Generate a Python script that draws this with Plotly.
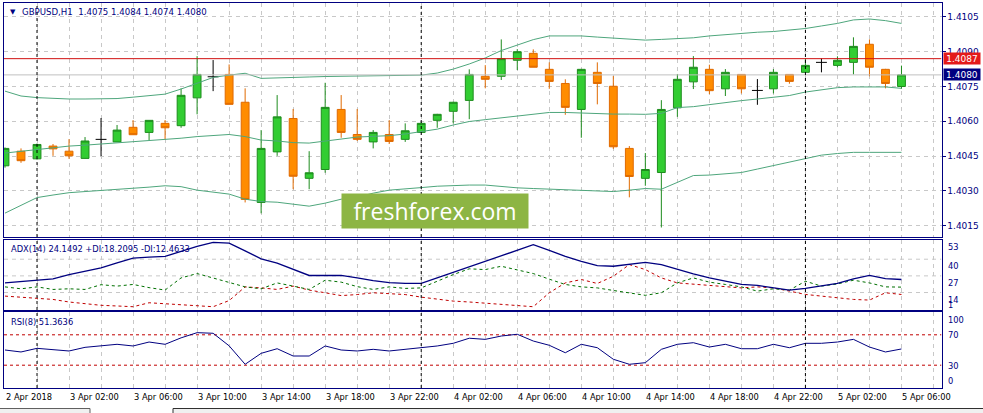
import plotly.graph_objects as go
import pandas as pd

W, H = 983, 413

# ---------------- data ----------------
bar_times = pd.date_range("2018-04-02 22:00", periods=57, freq="h")

open_ = [1.40408, 1.40471, 1.40438, 1.40493, 1.40471, 1.40440, 1.40522, 1.40511, 1.40574, 1.40552,
         1.40591, 1.40581, 1.40701, 1.40792, 1.40802, 1.40682, 1.40250, 1.40468, 1.40612, 1.40354,
         1.40392, 1.40651, 1.40543, 1.40511, 1.40543, 1.40522, 1.40552, 1.40604, 1.40643, 1.40690,
         1.40794, 1.40794, 1.40863, 1.40893, 1.40824, 1.40763, 1.40651, 1.40811, 1.40751, 1.40483,
         1.40354, 1.40379, 1.40658, 1.40770, 1.40824, 1.40740, 1.40802, 1.40733, 1.40740, 1.40802,
         1.40811, 1.40854, 1.40841, 1.40854, 1.40932, 1.40824, 1.40750]
high_ = [1.40487, 1.40483, 1.40504, 1.40502, 1.40523, 1.40532, 1.40614, 1.40584, 1.40605, 1.40604,
         1.40605, 1.40742, 1.40881, 1.40864, 1.40845, 1.40742, 1.40562, 1.40713, 1.40653, 1.40471,
         1.40766, 1.40713, 1.40653, 1.40562, 1.40605, 1.40591, 1.40597, 1.40632, 1.40684, 1.40824,
         1.40842, 1.40953, 1.40911, 1.40910, 1.40854, 1.40781, 1.40826, 1.40854, 1.40795, 1.40493,
         1.40463, 1.40691, 1.40804, 1.40881, 1.40844, 1.40825, 1.40802, 1.40782, 1.40825, 1.40802,
         1.40871, 1.40871, 1.40880, 1.40962, 1.40953, 1.40826, 1.40840]
low_ = [1.40400, 1.40421, 1.40435, 1.40451, 1.40438, 1.40439, 1.40450, 1.40511, 1.40542, 1.40519,
        1.40522, 1.40572, 1.40630, 1.40730, 1.40673, 1.40250, 1.40203, 1.40451, 1.40307, 1.40307,
        1.40378, 1.40529, 1.40515, 1.40483, 1.40502, 1.40511, 1.40552, 1.40572, 1.40591, 1.40609,
        1.40742, 1.40778, 1.40821, 1.40833, 1.40740, 1.40628, 1.40529, 1.40673, 1.40481, 1.40272,
        1.40322, 1.40142, 1.40619, 1.40739, 1.40717, 1.40709, 1.40720, 1.40671, 1.40720, 1.40762,
        1.40811, 1.40811, 1.40833, 1.40802, 1.40794, 1.40742, 1.40740]
close_ = [1.40483, 1.40430, 1.40500, 1.40481, 1.40451, 1.40515, 1.40522, 1.40562, 1.40542, 1.40604,
          1.40572, 1.40712, 1.40802, 1.40792, 1.40673, 1.40263, 1.40483, 1.40619, 1.40363, 1.40378,
          1.40660, 1.40552, 1.40522, 1.40552, 1.40513, 1.40559, 1.40591, 1.40630, 1.40682, 1.40802,
          1.40781, 1.40870, 1.40900, 1.40833, 1.40772, 1.40660, 1.40824, 1.40763, 1.40490, 1.40362,
          1.40392, 1.40651, 1.40781, 1.40833, 1.40732, 1.40811, 1.40740, 1.40733, 1.40811, 1.40772,
          1.40841, 1.40854, 1.40863, 1.40923, 1.40833, 1.40763, 1.40800]

bb_upper = [1.40730, 1.40709, 1.40702, 1.40698, 1.40696, 1.40696, 1.40696, 1.40698, 1.40704, 1.40709,
            1.40717, 1.40739, 1.40765, 1.40789, 1.40799, 1.40807, 1.40785, 1.40786, 1.40789, 1.40791,
            1.40793, 1.40794, 1.40795, 1.40795, 1.40796, 1.40797, 1.40799, 1.40808, 1.40825, 1.40847,
            1.40873, 1.40905, 1.40929, 1.40952, 1.40968, 1.40968, 1.40968, 1.40963, 1.40959, 1.40955,
            1.40950, 1.40953, 1.40957, 1.40960, 1.40968, 1.40974, 1.40978, 1.40984, 1.40987, 1.40993,
            1.41000, 1.41011, 1.41022, 1.41037, 1.41041, 1.41034, 1.41022]
bb_middle = [1.40463, 1.40471, 1.40480, 1.40486, 1.40493, 1.40497, 1.40502, 1.40506, 1.40510, 1.40517,
             1.40523, 1.40527, 1.40534, 1.40540, 1.40543, 1.40534, 1.40519, 1.40515, 1.40508, 1.40506,
             1.40515, 1.40525, 1.40532, 1.40535, 1.40538, 1.40545, 1.40555, 1.40566, 1.40584, 1.40599,
             1.40607, 1.40614, 1.40622, 1.40629, 1.40638, 1.40638, 1.40635, 1.40633, 1.40631, 1.40631,
             1.40630, 1.40634, 1.40659, 1.40663, 1.40672, 1.40683, 1.40689, 1.40696, 1.40704, 1.40711,
             1.40726, 1.40735, 1.40745, 1.40748, 1.40749, 1.40748, 1.40742]
bb_lower = [1.40204, 1.40238, 1.40271, 1.40282, 1.40292, 1.40297, 1.40301, 1.40305, 1.40310, 1.40316,
            1.40322, 1.40318, 1.40303, 1.40294, 1.40286, 1.40264, 1.40254, 1.40251, 1.40243, 1.40234,
            1.40247, 1.40264, 1.40273, 1.40290, 1.40303, 1.40310, 1.40314, 1.40320, 1.40323, 1.40325,
            1.40325, 1.40318, 1.40313, 1.40310, 1.40307, 1.40306, 1.40303, 1.40299, 1.40297, 1.40303,
            1.40310, 1.40307, 1.40338, 1.40366, 1.40368, 1.40372, 1.40379, 1.40394, 1.40409, 1.40424,
            1.40441, 1.40454, 1.40461, 1.40466, 1.40466, 1.40466, 1.40466]

adx = [21.5, 22.4, 23.4, 24.6, 27.9, 30.4, 33.3, 37.2, 40.9, 41.6,
       42.2, 46.1, 50.0, 53.1, 52.5, 46.5, 40.3, 37.0, 31.9, 27.3,
       27.3, 27.3, 25.4, 23.2, 21.7, 21.1, 21.1, 25.4, 29.8, 33.9,
       38.0, 42.2, 46.9, 51.3, 46.9, 42.2, 38.3, 35.0, 34.5, 35.8,
       37.6, 35.8, 32.0, 28.6, 25.4, 22.8, 20.3, 19.5, 17.6, 15.9,
       17.2, 19.1, 21.1, 24.6, 27.3, 24.9, 24.1492]
plus_di = [18.4, 16.9, 18.4, 16.4, 16.9, 16.4, 20.1, 19.0, 20.3, 17.8,
           15.9, 25.4, 28.8, 25.4, 21.7, 18.4, 16.9, 21.5, 19.0, 16.4,
           23.6, 22.1, 18.6, 16.4, 18.4, 17.2, 17.6, 22.8, 28.0, 32.5,
           31.9, 34.5, 31.4, 28.8, 24.4, 20.3, 18.4, 17.6, 15.6, 13.5,
           11.8, 13.8, 21.5, 25.4, 22.1, 20.3, 18.4, 15.1, 16.9, 15.9,
           22.8, 19.0, 20.7, 23.6, 21.5, 18.4, 18.2095]
minus_di = [11.2, 10.4, 9.9, 8.6, 6.6, 5.2, 4.0, 3.5, 2.9, 6.0,
            5.2, 4.0, 3.5, 2.9, 7.7, 18.4, 17.6, 16.4, 19.0, 15.9,
            13.8, 11.6, 12.4, 13.8, 13.1, 12.4, 10.4, 8.9, 7.3, 6.6,
            5.8, 4.8, 3.8, 2.9, 13.8, 21.5, 24.15, 21.05, 26.7, 35.8,
            31.9, 25.4, 21.5, 20.5, 19.5, 18.6, 17.6, 18.4, 17.6, 15.1,
            12.5, 11.2, 9.9, 8.6, 8.1, 13.8, 12.4633]
rsi = [50.0, 47.4, 52.2, 50.9, 48.7, 53.5, 55.3, 57.5, 55.3, 60.5,
       57.5, 66.0, 72.8, 72.0, 55.5, 31.2, 45.6, 51.7, 42.1, 42.1,
       55.3, 50.0, 48.7, 50.9, 48.7, 50.9, 53.9, 55.3, 58.8, 65.5,
       64.0, 68.4, 70.7, 61.8, 56.2, 46.4, 57.5, 53.0, 37.8, 31.2,
       33.3, 50.9, 57.5, 59.6, 53.9, 57.5, 51.7, 51.7, 57.5, 53.0,
       58.8, 58.8, 60.5, 64.0, 53.9, 47.4, 51.3636]

price_ticks = [1.4015, 1.4030, 1.4045, 1.4060, 1.4075, 1.4090, 1.4105]
adx_levels = [40, 27, 14]
adx_ticks = [53, 40, 27, 14]
rsi_levels = [70, 30]
rsi_ticks = [100, 70, 30, 0]
ask_price = 1.4087
bid_price = 1.4080
title_text = "GBPUSD,H1  1.4075 1.4084 1.4074 1.4080"
adx_text = "ADX(14) 24.1492 +DI:18.2095 -DI:12.4633"
rsi_text = "RSI(8) 51.3636"

# ---------------- styling ----------------
NAVY = "#000080"
GRID = "#c8c8c8"
BB = "#4ea67c"
FONT = "DejaVu Sans"

idx = list(range(len(bar_times)))
xr = [-0.0625, 58.5]


def py(p):
    return 1 - p / H


def px(p):
    return p / W


xdom = [px(4), px(941.5)]
dom_main = [py(237), py(3)]
dom_adx = [py(310), py(239.5)]
dom_rsi = [py(388), py(312)]

fig = go.Figure()

# candles (non-doji)
nd = [i for i in idx if abs(open_[i] - close_[i]) > 1e-9]
fig.add_trace(go.Candlestick(
    x=nd, open=[open_[i] for i in nd], high=[high_[i] for i in nd],
    low=[low_[i] for i in nd], close=[close_[i] for i in nd],
    increasing=dict(line=dict(color="#1e8c1e", width=1), fillcolor="#32cd32"),
    decreasing=dict(line=dict(color="#e06a00", width=1), fillcolor="#ff8c00"),
    whiskerwidth=0, xaxis="x", yaxis="y", hoverinfo="skip"))

# dojis as black crosses
dj = [i for i in idx if abs(open_[i] - close_[i]) <= 1e-9]
dx, dy = [], []
for i in dj:
    dx += [i, i, None, i - 0.34, i + 0.34, None]
    dy += [low_[i], high_[i], None, open_[i], open_[i], None]
fig.add_trace(go.Scatter(x=dx, y=dy, mode="lines", line=dict(color="black", width=1),
                         xaxis="x", yaxis="y", hoverinfo="skip"))

# bollinger bands
for band in (bb_upper, bb_middle, bb_lower):
    fig.add_trace(go.Scatter(x=idx, y=band, mode="lines", line=dict(color=BB, width=1),
                             xaxis="x", yaxis="y", hoverinfo="skip"))

# price levels
fig.add_trace(go.Scatter(x=xr, y=[bid_price, bid_price], mode="lines",
                         line=dict(color="#c0c0c0", width=1), xaxis="x", yaxis="y"))
fig.add_trace(go.Scatter(x=xr, y=[ask_price, ask_price], mode="lines",
                         line=dict(color="#d01010", width=1), xaxis="x", yaxis="y"))

# ADX
fig.add_trace(go.Scatter(x=idx, y=minus_di, mode="lines",
                         line=dict(color="#c00000", width=1, dash="3px,3px"), xaxis="x2", yaxis="y2"))
fig.add_trace(go.Scatter(x=idx, y=plus_di, mode="lines",
                         line=dict(color="#007000", width=1, dash="3px,3px"), xaxis="x2", yaxis="y2"))
fig.add_trace(go.Scatter(x=idx, y=adx, mode="lines",
                         line=dict(color=NAVY, width=1.3), xaxis="x2", yaxis="y2"))

# RSI
for lv in rsi_levels:
    fig.add_trace(go.Scatter(x=xr, y=[lv, lv], mode="lines",
                             line=dict(color="#c00000", width=1, dash="3px,3px"), xaxis="x3", yaxis="y3"))
fig.add_trace(go.Scatter(x=idx, y=rsi, mode="lines",
                         line=dict(color=NAVY, width=1), xaxis="x3", yaxis="y3"))

shapes = []
# ADX level grid
for lv in adx_levels:
    shapes.append(dict(type="line", xref="x2", yref="y2", x0=xr[0], x1=xr[1], y0=lv, y1=lv,
                       line=dict(color=GRID, width=1, dash="4px,4px"), layer="below"))
# period separators at midnight
for i, t in enumerate(bar_times):
    if t.hour == 0:
        for xa, ya, dm in (("x", "y", dom_main), ("x2", "y2", dom_adx), ("x3", "y3", dom_rsi)):
            shapes.append(dict(type="line", xref=xa, yref="paper", x0=i, x1=i, y0=dm[0], y1=dm[1],
                               line=dict(color="black", width=1, dash="3px,3px"), layer="above"))
# bottom tab strip (terminal window chrome)
shapes.append(dict(type="rect", xref="paper", yref="paper", x0=px(-1), x1=px(90), y0=py(414), y1=py(408.5),
                   fillcolor="#f0f0f0", line=dict(color="#606060", width=1), layer="above"))
shapes.append(dict(type="rect", xref="paper", yref="paper", x0=px(173), x1=px(984), y0=py(414), y1=py(408.5),
                   fillcolor="#f0f0f0", line=dict(color="#303030", width=1), layer="above"))

annotations = []
# time labels
for i, t in enumerate(bar_times):
    if i % 4 == 0:
        lab = t.strftime("%-d %b %Y") if i == 0 else t.strftime("%-d %b %H:%M")
        annotations.append(dict(x=i, xref="x3", y=py(397), yref="paper", text=lab, showarrow=False,
                                xanchor="left", yanchor="middle", xshift=-1,
                                font=dict(family=FONT, size=8.3, color="black")))
# ADX labels
adx_lab_y = {53: 246.5, 40: 265.5, 27: 283, 14: 299.5}
for v in adx_ticks:
    annotations.append(dict(x=px(946), xref="paper", y=py(adx_lab_y[v]), yref="paper", text=str(v),
                            showarrow=False, xanchor="left", yanchor="middle",
                            font=dict(family=FONT, size=8.3, color=NAVY)))
annotations.append(dict(x=px(946), xref="paper", y=py(304.5), yref="paper", text="1",
                        showarrow=False, xanchor="left", yanchor="middle",
                        font=dict(family=FONT, size=8.3, color=NAVY)))
# RSI labels
rsi_lab_y = {100: 319.5, 70: 335, 30: 365.5, 0: 381}
for v in rsi_ticks:
    annotations.append(dict(x=px(946), xref="paper", y=py(rsi_lab_y[v]), yref="paper", text=str(v),
                            showarrow=False, xanchor="left", yanchor="middle",
                            font=dict(family=FONT, size=8.3, color=NAVY)))
# price boxes
annotations.append(dict(x=px(942.5), xref="paper", y=ask_price, yref="y", text=f"{ask_price:.4f}",
                        showarrow=False, xanchor="left", yanchor="middle", bgcolor="#e41a1a",
                        width=36, height=11, borderpad=0, align="center",
                        font=dict(family=FONT, size=9, color="white")))
annotations.append(dict(x=px(942.5), xref="paper", y=bid_price, yref="y", text=f"{bid_price:.4f}",
                        showarrow=False, xanchor="left", yanchor="middle", bgcolor=NAVY,
                        width=36, height=11, borderpad=0, align="center",
                        font=dict(family=FONT, size=9, color="white")))
# titles
annotations.append(dict(x=px(8), xref="paper", y=py(12), yref="paper", text="▼", showarrow=False,
                        xanchor="left", yanchor="middle", font=dict(family=FONT, size=7, color=NAVY)))
annotations.append(dict(x=px(20), xref="paper", y=py(12), yref="paper", text=title_text, showarrow=False,
                        xanchor="left", yanchor="middle", font=dict(family=FONT, size=8.6, color=NAVY)))
annotations.append(dict(x=px(9), xref="paper", y=py(249), yref="paper", text=adx_text, showarrow=False,
                        xanchor="left", yanchor="middle", font=dict(family=FONT, size=8.3, color=NAVY)))
annotations.append(dict(x=px(9), xref="paper", y=py(322), yref="paper", text=rsi_text, showarrow=False,
                        xanchor="left", yanchor="middle", font=dict(family=FONT, size=8.3, color=NAVY)))
# watermark
annotations.append(dict(x=px(435), xref="paper", y=py(211), yref="paper", text="freshforex.com",
                        showarrow=False, xanchor="center", yanchor="middle", bgcolor="#8db544",
                        width=186, height=34, borderpad=0,
                        font=dict(family="Open Sans", size=23, color="white")))

xbase = dict(range=xr, showgrid=True, gridcolor=GRID, griddash="4px,4px", gridwidth=1,
             tick0=0, dtick=2, showticklabels=False, ticks="", zeroline=False,
             showline=True, mirror=True, linecolor=NAVY, linewidth=1, domain=xdom, fixedrange=True)
ybase = dict(side="right", showline=True, mirror=True, linecolor=NAVY, linewidth=1, zeroline=False,
             fixedrange=True)

fig.update_layout(
    width=W, height=H, margin=dict(l=0, r=0, t=0, b=0),
    paper_bgcolor="white", plot_bgcolor="white", showlegend=False,
    font=dict(family=FONT, size=8.3, color=NAVY),
    xaxis=dict(**xbase, anchor="y", rangeslider=dict(visible=False)),
    xaxis2=dict(**xbase, anchor="y2", matches="x"),
    xaxis3=dict(**xbase, anchor="y3", matches="x"),
    yaxis=dict(**ybase, domain=dom_main, range=[1.40101, 1.41110], tickvals=price_ticks,
               ticktext=[f"{v:.4f}" for v in price_ticks], showgrid=True, gridcolor=GRID,
               griddash="4px,4px", ticks="outside", ticklen=3, tickcolor=NAVY,
               tickfont=dict(family=FONT, size=9, color=NAVY), anchor="x"),
    yaxis2=dict(**ybase, domain=dom_adx, range=[0.35, 55.39], showgrid=False, showticklabels=False,
                ticks="", anchor="x2"),
    yaxis3=dict(**ybase, domain=dom_rsi, range=[0, 100], showgrid=False, showticklabels=False,
                ticks="", anchor="x3"),
    shapes=shapes, annotations=annotations,
)

fig.write_html("out.html", config={"displayModeBar": False, "staticPlot": True},
               post_script="document.body.style.margin='0';document.body.style.overflow='hidden';")
